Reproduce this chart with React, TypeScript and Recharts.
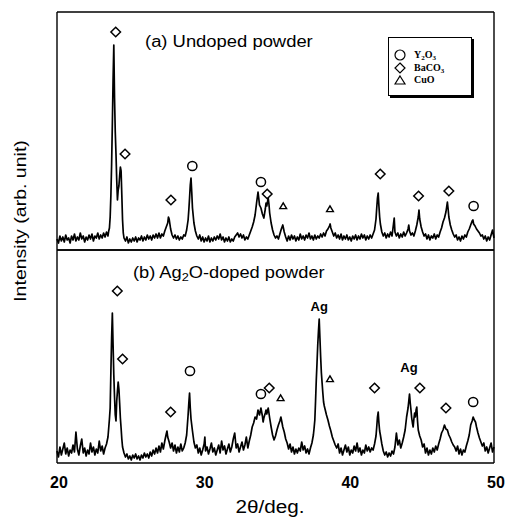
import React from "react";
import { ComposedChart, Line, Scatter, XAxis, YAxis } from "recharts";

// 2θ tick positions (labels only on the decades)
const angleTicks = [20, 25, 30, 35, 40, 45, 50];

// (a) undoped powder, [2θ, intensity]
const undopedPattern: [number, number][] = [
  [20.0, 11], [20.1, 7], [20.2, 14], [20.3, 9], [20.4, 13], [20.5, 8], [20.6, 15], [20.7, 10], [20.8, 12], [20.9, 7],
  [21.0, 14], [21.1, 10], [21.2, 16], [21.3, 9], [21.4, 13], [21.5, 10], [21.6, 17], [21.7, 11], [21.8, 14], [21.9, 8],
  [22.0, 13], [22.1, 10], [22.2, 15], [22.3, 11], [22.4, 16], [22.5, 9], [22.6, 14], [22.7, 12], [22.8, 17], [22.9, 11],
  [23.0, 15], [23.1, 12], [23.2, 17], [23.3, 13], [23.4, 18], [23.5, 14], [23.55, 19], [23.6, 22], [23.65, 33], [23.7, 55],
  [23.75, 86], [23.8, 126], [23.85, 170], [23.9, 205], [23.95, 152], [24.0, 118], [24.05, 96], [24.1, 70], [24.15, 50],
  [24.2, 60], [24.25, 64], [24.3, 74], [24.35, 83], [24.4, 79], [24.45, 55], [24.5, 30], [24.55, 17], [24.6, 12],
  [24.7, 9], [24.8, 13], [24.9, 7], [25.0, 11], [25.1, 8], [25.2, 12], [25.3, 9], [25.4, 13], [25.5, 8], [25.6, 12],
  [25.7, 10], [25.8, 14], [25.9, 9], [26.0, 13], [26.1, 10], [26.2, 15], [26.3, 11], [26.4, 14], [26.5, 10], [26.6, 15],
  [26.7, 12], [26.8, 16], [26.9, 12], [27.0, 17], [27.1, 12], [27.2, 16], [27.3, 14], [27.4, 19], [27.5, 23], [27.6, 27],
  [27.65, 33], [27.7, 31], [27.8, 21], [27.9, 15], [28.0, 12], [28.1, 15], [28.2, 11], [28.3, 14], [28.4, 10], [28.5, 13],
  [28.6, 11], [28.7, 15], [28.8, 14], [28.9, 20], [29.0, 30], [29.05, 40], [29.1, 52], [29.15, 65], [29.2, 72], [29.25, 58],
  [29.3, 42], [29.4, 27], [29.5, 19], [29.6, 14], [29.7, 11], [29.8, 15], [29.9, 9], [30.0, 13], [30.1, 8], [30.2, 12],
  [30.3, 9], [30.4, 14], [30.5, 8], [30.6, 12], [30.7, 9], [30.8, 13], [30.9, 10], [31.0, 14], [31.1, 11], [31.2, 16],
  [31.3, 10], [31.4, 13], [31.5, 8], [31.6, 12], [31.7, 9], [31.8, 13], [31.9, 8], [32.0, 11], [32.1, 9], [32.2, 13],
  [32.3, 15], [32.4, 17], [32.5, 13], [32.6, 16], [32.7, 12], [32.8, 15], [32.9, 10], [33.0, 13], [33.1, 11], [33.2, 15],
  [33.3, 19], [33.4, 23], [33.5, 28], [33.6, 35], [33.7, 47], [33.8, 58], [33.85, 52], [33.9, 45], [34.0, 42], [34.1, 36],
  [34.2, 32], [34.3, 41], [34.35, 47], [34.4, 44], [34.5, 52], [34.55, 46], [34.6, 37], [34.7, 27], [34.8, 20], [34.9, 15],
  [35.0, 12], [35.1, 14], [35.2, 11], [35.3, 16], [35.4, 21], [35.5, 25], [35.6, 18], [35.7, 13], [35.8, 9], [35.9, 14],
  [36.0, 10], [36.1, 15], [36.2, 11], [36.3, 14], [36.4, 9], [36.5, 13], [36.6, 10], [36.7, 16], [36.8, 11], [36.9, 14],
  [37.0, 10], [37.1, 15], [37.2, 12], [37.3, 17], [37.4, 11], [37.5, 14], [37.6, 10], [37.7, 15], [37.8, 11], [37.9, 14],
  [38.0, 12], [38.1, 16], [38.2, 13], [38.3, 17], [38.4, 14], [38.5, 19], [38.6, 21], [38.7, 24], [38.75, 26], [38.8, 22],
  [38.9, 18], [39.0, 14], [39.1, 17], [39.2, 12], [39.3, 15], [39.4, 11], [39.5, 16], [39.6, 10], [39.7, 14], [39.8, 11],
  [39.9, 15], [40.0, 10], [40.1, 13], [40.2, 9], [40.3, 14], [40.4, 11], [40.5, 15], [40.6, 10], [40.7, 14], [40.8, 11],
  [40.9, 16], [41.0, 12], [41.1, 15], [41.2, 10], [41.3, 14], [41.4, 11], [41.5, 15], [41.6, 12], [41.7, 16], [41.8, 20],
  [41.9, 31], [41.95, 42], [42.0, 52], [42.05, 57], [42.1, 44], [42.15, 33], [42.2, 26], [42.3, 18], [42.4, 14], [42.5, 17],
  [42.6, 12], [42.7, 16], [42.8, 13], [42.9, 18], [43.0, 14], [43.05, 20], [43.1, 26], [43.15, 32], [43.2, 18], [43.3, 14],
  [43.4, 17], [43.5, 12], [43.6, 16], [43.7, 13], [43.8, 18], [43.9, 14], [44.0, 17], [44.1, 21], [44.15, 25], [44.2, 19],
  [44.3, 15], [44.4, 17], [44.5, 14], [44.6, 19], [44.7, 25], [44.8, 33], [44.85, 40], [44.9, 31], [45.0, 23], [45.1, 18],
  [45.2, 14], [45.3, 16], [45.4, 11], [45.5, 15], [45.6, 10], [45.7, 14], [45.8, 12], [45.9, 16], [46.0, 11], [46.1, 15],
  [46.2, 13], [46.3, 18], [46.4, 22], [46.5, 28], [46.6, 32], [46.7, 38], [46.75, 43], [46.8, 48], [46.85, 41], [46.9, 33],
  [47.0, 25], [47.1, 20], [47.2, 16], [47.3, 13], [47.4, 15], [47.5, 10], [47.6, 13], [47.7, 9], [47.8, 14], [47.9, 11],
  [48.0, 15], [48.1, 13], [48.2, 18], [48.3, 21], [48.4, 25], [48.5, 29], [48.55, 30], [48.6, 26], [48.7, 24], [48.8, 21],
  [48.9, 19], [49.0, 17], [49.1, 14], [49.2, 15], [49.3, 11], [49.4, 14], [49.5, 9], [49.6, 13], [49.7, 10], [49.8, 15],
  [49.9, 20], [50.0, 12],
];

// (b) Ag2O-doped powder
const dopedPattern: [number, number][] = [
  [20.0, 12], [20.1, 6], [20.2, 16], [20.3, 8], [20.4, 14], [20.5, 20], [20.6, 9], [20.7, 15], [20.8, 7], [20.9, 13],
  [21.0, 10], [21.1, 18], [21.2, 11], [21.3, 31], [21.4, 14], [21.5, 8], [21.6, 17], [21.7, 24], [21.8, 10], [21.9, 15],
  [22.0, 7], [22.1, 13], [22.2, 9], [22.3, 20], [22.4, 11], [22.5, 16], [22.6, 8], [22.7, 14], [22.8, 10], [22.9, 22],
  [23.0, 12], [23.1, 17], [23.2, 9], [23.3, 15], [23.4, 19], [23.5, 26], [23.55, 35], [23.6, 44], [23.65, 55], [23.7, 92],
  [23.75, 125], [23.8, 150], [23.85, 118], [23.9, 88], [23.95, 66], [24.0, 48], [24.05, 42], [24.1, 62], [24.15, 72],
  [24.2, 81], [24.25, 74], [24.3, 60], [24.35, 45], [24.4, 35], [24.45, 24], [24.5, 16], [24.6, 10], [24.7, 6], [24.8, 9],
  [24.9, 4], [25.0, 7], [25.1, 3], [25.2, 8], [25.3, 5], [25.4, 9], [25.5, 4], [25.6, 7], [25.7, 3], [25.8, 8],
  [25.9, 5], [26.0, 10], [26.1, 6], [26.2, 9], [26.3, 5], [26.4, 11], [26.5, 7], [26.6, 13], [26.7, 9], [26.8, 15],
  [26.9, 10], [27.0, 17], [27.1, 11], [27.2, 20], [27.3, 14], [27.4, 22], [27.5, 29], [27.55, 32], [27.6, 26], [27.7, 21],
  [27.8, 15], [27.9, 20], [28.0, 12], [28.1, 18], [28.2, 10], [28.3, 16], [28.4, 11], [28.5, 19], [28.6, 12], [28.7, 15],
  [28.8, 20], [28.9, 28], [28.95, 38], [29.0, 48], [29.05, 60], [29.1, 70], [29.15, 55], [29.2, 44], [29.3, 32], [29.4, 21],
  [29.5, 15], [29.6, 18], [29.7, 10], [29.8, 15], [29.9, 8], [30.0, 13], [30.1, 19], [30.15, 26], [30.2, 12], [30.3, 16],
  [30.4, 9], [30.5, 14], [30.6, 20], [30.7, 11], [30.8, 15], [30.9, 8], [31.0, 13], [31.1, 18], [31.2, 10], [31.3, 22],
  [31.4, 13], [31.5, 17], [31.6, 9], [31.7, 14], [31.8, 19], [31.9, 11], [32.0, 16], [32.1, 24], [32.2, 30], [32.3, 15],
  [32.4, 19], [32.5, 11], [32.6, 16], [32.7, 21], [32.8, 13], [32.9, 18], [33.0, 26], [33.1, 15], [33.2, 22], [33.3, 28],
  [33.4, 36], [33.5, 40], [33.6, 46], [33.7, 44], [33.8, 53], [33.9, 48], [34.0, 55], [34.1, 47], [34.15, 41], [34.2, 45],
  [34.3, 50], [34.35, 53], [34.4, 49], [34.5, 55], [34.6, 45], [34.7, 36], [34.8, 28], [34.9, 23], [35.0, 27], [35.1, 33],
  [35.2, 38], [35.3, 42], [35.37, 46], [35.45, 40], [35.5, 36], [35.6, 31], [35.7, 24], [35.8, 20], [35.9, 14], [36.0, 19],
  [36.1, 11], [36.2, 16], [36.3, 9], [36.4, 14], [36.5, 10], [36.6, 15], [36.7, 12], [36.8, 21], [36.9, 13], [37.0, 17],
  [37.1, 10], [37.2, 14], [37.3, 9], [37.4, 15], [37.5, 20], [37.55, 24], [37.6, 28], [37.65, 35], [37.7, 43], [37.75, 62],
  [37.8, 83], [37.85, 100], [37.9, 118], [37.95, 132], [38.0, 144], [38.05, 125], [38.1, 106], [38.15, 90], [38.2, 80],
  [38.25, 70], [38.3, 61], [38.35, 57], [38.4, 54], [38.5, 48], [38.6, 43], [38.7, 37], [38.8, 32], [38.9, 26], [39.0, 22],
  [39.1, 18], [39.2, 15], [39.3, 19], [39.4, 10], [39.5, 15], [39.6, 8], [39.7, 13], [39.8, 18], [39.9, 11], [40.0, 16],
  [40.1, 8], [40.2, 13], [40.3, 10], [40.4, 17], [40.5, 12], [40.6, 20], [40.7, 11], [40.8, 15], [40.9, 8], [41.0, 13],
  [41.1, 10], [41.2, 18], [41.3, 12], [41.4, 16], [41.5, 11], [41.6, 15], [41.7, 13], [41.8, 19], [41.9, 27], [41.95, 36],
  [42.0, 46], [42.05, 51], [42.1, 40], [42.15, 32], [42.2, 28], [42.3, 19], [42.4, 12], [42.5, 8], [42.6, 11], [42.7, 6],
  [42.8, 10], [42.9, 7], [43.0, 12], [43.1, 9], [43.2, 16], [43.3, 30], [43.35, 24], [43.4, 18], [43.5, 23], [43.6, 15],
  [43.7, 20], [43.8, 26], [43.9, 33], [44.0, 46], [44.1, 55], [44.15, 62], [44.2, 69], [44.25, 60], [44.3, 53], [44.35, 45],
  [44.4, 40], [44.45, 36], [44.5, 44], [44.55, 50], [44.6, 46], [44.65, 53], [44.7, 56], [44.75, 42], [44.8, 33], [44.9, 27],
  [45.0, 23], [45.1, 16], [45.2, 19], [45.3, 10], [45.4, 15], [45.5, 8], [45.6, 13], [45.7, 9], [45.8, 15], [45.9, 11],
  [46.0, 17], [46.1, 13], [46.2, 19], [46.3, 24], [46.4, 30], [46.5, 33], [46.6, 38], [46.7, 34], [46.8, 33], [46.9, 28],
  [47.0, 25], [47.1, 21], [47.2, 18], [47.3, 16], [47.4, 12], [47.5, 17], [47.6, 9], [47.7, 14], [47.8, 8], [47.9, 13],
  [48.0, 11], [48.1, 17], [48.2, 22], [48.3, 28], [48.35, 33], [48.4, 38], [48.5, 42], [48.57, 46], [48.65, 43], [48.73, 41],
  [48.8, 36], [48.9, 30], [49.0, 25], [49.1, 21], [49.2, 17], [49.3, 20], [49.4, 12], [49.5, 16], [49.6, 10], [49.7, 15],
  [49.8, 20], [49.9, 11], [50.0, 16],
];

// phase markers placed over the peaks, [2θ, height]
const undopedY2O3 = [[29.29, 84], [34.0, 68], [48.6, 44]];
const undopedBaCO3 = [[24.03, 218], [24.67, 96], [27.82, 50], [34.43, 56], [42.19, 76], [44.82, 54], [46.9, 59]];
const undopedCuO = [[35.53, 44], [38.74, 41]];
const dopedY2O3 = [[29.13, 92], [34.0, 69], [48.57, 61]];
const dopedBaCO3 = [[24.14, 172], [24.5, 104], [27.8, 51], [34.57, 75], [41.8, 75], [44.91, 75], [46.7, 55]];
const dopedCuO = [[35.35, 65], [38.74, 84]];
const dopedAg = [[38.0, 157], [44.16, 96]];

const FONT = "'Liberation Sans', Arial, sans-serif";

const toPoints = (arr: number[][]) => arr.map(([x, y]) => ({ x, y }));

const Ring = (p: any) => (
  <circle cx={p.cx} cy={p.cy} r={4.6} fill="none" stroke="#000" strokeWidth={1.5} />
);
const Diamond = (p: any) => (
  <path
    d={`M${p.cx},${p.cy - 4.8}L${p.cx + 4.8},${p.cy}L${p.cx},${p.cy + 4.8}L${p.cx - 4.8},${p.cy}Z`}
    fill="none"
    stroke="#000"
    strokeWidth={1.5}
  />
);
const Tri = (p: any) => (
  <path
    d={`M${p.cx},${p.cy - 3.2}L${p.cx + 3.4},${p.cy + 2.6}L${p.cx - 3.4},${p.cy + 2.6}Z`}
    fill="none"
    stroke="#000"
    strokeWidth={1.4}
  />
);
const AgLabel = (p: any) => (
  <text x={p.cx} y={p.cy + 5} textAnchor="middle" fontFamily={FONT} fontWeight="bold" fontSize={13}>
    Ag
  </text>
);

interface PanelProps {
  pattern: [number, number][];
  y2o3: number[][];
  baco3: number[][];
  cuo: number[][];
  ag?: number[][];
  yMax: number;
  margin: { top: number; right: number; bottom: number; left: number };
  showLabels: boolean;
}

const frame = { stroke: "#000", strokeWidth: 1.4 };

function Panel({ pattern, y2o3, baco3, cuo, ag, yMax, margin, showLabels }: PanelProps) {
  return (
    <ComposedChart width={506} height={518} margin={margin}>
      {/* bottom edge with the 2θ labels */}
      <XAxis
        dataKey="x"
        type="number"
        domain={[20, 50]}
        ticks={angleTicks}
        height={1}
        axisLine={frame}
        tickLine={false}
        tickSize={6}
        tickMargin={8}
        tick={showLabels ? { fill: "#000", fontSize: 16, fontWeight: "bold", fontFamily: FONT, dx: 2 } : false}
        tickFormatter={(v: number) => (v % 10 === 0 ? String(v) : "")}
        interval={0}
      />
      {/* inward tick marks along the bottom edge */}
      <XAxis
        xAxisId="inner"
        orientation="bottom"
        mirror
        dataKey="x"
        type="number"
        domain={[20, 50]}
        ticks={angleTicks}
        height={1}
        axisLine={false}
        tickLine={{ stroke: "#000", strokeWidth: 1.2 }}
        tickSize={4}
        tick={false}
        interval={0}
      />
      {/* top edge with inward ticks */}
      <XAxis
        xAxisId="top"
        orientation="top"
        mirror
        dataKey="x"
        type="number"
        domain={[20, 50]}
        ticks={angleTicks}
        height={1}
        axisLine={frame}
        tickLine={{ stroke: "#000", strokeWidth: 1.2 }}
        tickSize={4}
        tick={false}
        interval={0}
      />
      <YAxis
        dataKey="y"
        type="number"
        domain={[0, yMax]}
        ticks={[0, yMax]}
        width={1}
        axisLine={frame}
        tickLine={false}
        tick={false}
      />
      <YAxis
        yAxisId="right"
        orientation="right"
        type="number"
        domain={[0, 1]}
        ticks={[0, 1]}
        width={1}
        axisLine={frame}
        tickLine={false}
        tick={false}
      />
      <Line
        data={toPoints(pattern)}
        dataKey="y"
        type="linear"
        stroke="#000"
        strokeWidth={1.7}
        strokeLinejoin="round"
        dot={false}
        isAnimationActive={false}
      />
      <Scatter data={toPoints(y2o3)} dataKey="y" shape={Ring} isAnimationActive={false} />
      <Scatter data={toPoints(baco3)} dataKey="y" shape={Diamond} isAnimationActive={false} />
      <Scatter data={toPoints(cuo)} dataKey="y" shape={Tri} isAnimationActive={false} />
      {ag && <Scatter data={toPoints(ag)} dataKey="y" shape={AgLabel} isAnimationActive={false} />}
    </ComposedChart>
  );
}

const abs = (left: number, top: number, extra: React.CSSProperties = {}): React.CSSProperties => ({
  position: "absolute",
  left,
  top,
  fontFamily: FONT,
  color: "#000",
  whiteSpace: "nowrap",
  ...extra,
});

const subStyle: React.CSSProperties = { fontSize: "0.7em", verticalAlign: "-0.25em", lineHeight: 0 };

function LegendBox() {
  const row = (icon: React.ReactNode, label: React.ReactNode) => (
    <div style={{ display: "flex", alignItems: "center", height: 12.5, lineHeight: "12px" }}>
      <svg width={14} height={12} style={{ marginRight: 6, flex: "none" }}>
        {icon}
      </svg>
      <span style={{ fontSize: 10, fontWeight: "bold", fontFamily: "'Liberation Serif', serif" }}>{label}</span>
    </div>
  );
  return (
    <div
      style={abs(388, 37, {
        width: 84,
        height: 59,
        border: "1px solid #000",
        boxShadow: "2px 2px 0 #000",
        background: "#fff",
        padding: "11px 0 0 5px",
        boxSizing: "border-box",
      })}
    >
      {row(<circle cx={6} cy={6} r={5} fill="none" stroke="#000" strokeWidth={1.2} />, <>Y<sub style={subStyle}>2</sub>O<sub style={subStyle}>3</sub></>)}
      {row(<path d="M6,1L11,6L6,11L1,6Z" fill="none" stroke="#000" strokeWidth={1.2} />, <>BaCO<sub style={subStyle}>3</sub></>)}
      {row(<path d="M6,2L11,10L1,10Z" fill="none" stroke="#000" strokeWidth={1.2} />, "CuO")}
    </div>
  );
}

export default function App() {
  return (
    <div style={{ position: "absolute", left: 0, top: 0, width: 506, height: 518, background: "#fff" }}>
      <div style={{ position: "absolute", left: 0, top: 0 }}>
        <Panel
          pattern={undopedPattern}
          y2o3={undopedY2O3}
          baco3={undopedBaCO3}
          cuo={undopedCuO}
          yMax={238}
          margin={{ top: 12, right: 11, bottom: 267, left: 56 }}
          showLabels={false}
        />
      </div>
      <div style={{ position: "absolute", left: 0, top: 0 }}>
        <Panel
          pattern={dopedPattern}
          y2o3={dopedY2O3}
          baco3={dopedBaCO3}
          cuo={dopedCuO}
          ag={dopedAg}
          yMax={213}
          margin={{ top: 250, right: 11, bottom: 54, left: 56 }}
          showLabels={true}
        />
      </div>
      <div style={abs(145, 33, { fontSize: 16, lineHeight: "18px", transform: "scaleX(1.15)", transformOrigin: "left" })}>
        (a) Undoped powder
      </div>
      <div style={abs(133, 264, { fontSize: 16, lineHeight: "18px", transform: "scaleX(1.14)", transformOrigin: "left" })}>
        (b) Ag<sub style={subStyle}>2</sub>O-doped powder
      </div>
      <LegendBox />
      <div
        style={abs(21, 221, {
          fontSize: 16,
          lineHeight: "18px",
          transform: "translate(-50%, -50%) rotate(-90deg) scaleX(1.22)",
        })}
      >
        Intensity (arb. unit)
      </div>
      <div style={abs(270, 507, { fontSize: 18, lineHeight: "20px", transform: "translate(-50%, -50%) scaleX(1.15)" })}>
        2θ/deg.
      </div>
    </div>
  );
}
